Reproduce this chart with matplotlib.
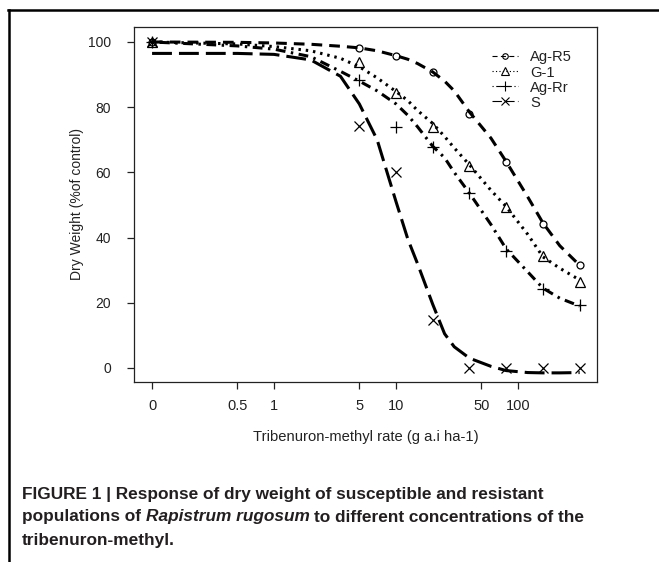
import numpy as np
import matplotlib
matplotlib.use("Agg")
import matplotlib.pyplot as plt
from matplotlib.lines import Line2D

# ---------------- data ----------------
series_names = ["Ag-R5", "G-1", "Ag-Rr", "S"]

obs_doses = [0, 5, 10, 20, 40, 80, 160, 320]
obs_agr5 = [100, 98.3, 95.7, 90.7, 77.8, 63.3, 44.2, 31.6]
obs_g1 = [100, 94.0, 84.3, 74.0, 62.0, 49.3, 34.2, 26.5]
obs_agrr = [100, 88.3, 73.8, 67.7, 53.8, 35.9, 24.1, 19.3]
obs_s = [100, 74.3, 60.0, 14.7, 0.0, 0.0, 0.0, 0.0]

curve_doses = [0, 0.5, 1, 2, 3.5, 5, 7, 10, 12.5, 15, 20, 25, 30, 40, 60, 80, 120, 160, 220, 320]
curve_agr5 = [100, 99.9, 99.7, 99.3, 98.7, 98.2, 97.3, 95.8, 94.7, 93.4, 90.8, 88, 85, 78.5, 70.5, 63.3, 52.5, 44.5, 37.5, 31.5]
curve_g1 = [100, 99.4, 98.6, 97.3, 95, 92.4, 89, 84.8, 82, 79, 75, 71, 67.5, 62.3, 54.5, 49.5, 41, 34.1, 30.6, 27]
curve_agrr = [100, 98.8, 97.8, 95.5, 91, 88, 85, 81, 77.5, 74, 68, 64.5, 60, 53.6, 44, 36.5, 29.5, 24.5, 21.4, 19]
curve_s = [96.5, 96.5, 96.2, 94.5, 89.5, 81, 70, 51, 39.5, 32, 19.5, 10.5, 6.5, 3, 0.5, -0.8, -1.4, -1.5, -1.5, -1.4]

x_tick_values = [0, 0.5, 1, 5, 10, 50, 100]
x_tick_labels = ["0", "0.5", "1", "5", "10", "50", "100"]
y_tick_values = [0, 20, 40, 60, 80, 100]

ZERO_AT = 0.1  # where dose 0 is drawn on the log axis

# ---------------- styles ----------------
plt.rcParams["font.family"] = ["Liberation Sans", "DejaVu Sans"]

styles = {
    "Ag-R5": dict(dashes=(3.5, 2.3), marker="o", ms=5),
    "G-1": dict(dashes=(0.8, 1.6), marker="^", ms=6.5),
    "Ag-Rr": dict(dashes=(0.8, 1.8, 3.2, 1.8), marker="+", ms=9),
    "S": dict(dashes=(6.5, 2.3), marker="x", ms=6.5),
}

TXT = "#222222"
W, H = 659, 562
fig = plt.figure(figsize=(W / 100, H / 100), dpi=100)

L, R, T, B = 134, 597, 27, 382
ax = fig.add_axes([L / W, 1 - B / H, (R - L) / W, (B - T) / H])


def pos(d):
    d = np.asarray(d, dtype=float)
    return np.where(d == 0, ZERO_AT, d)


obs = {"Ag-R5": obs_agr5, "G-1": obs_g1, "Ag-Rr": obs_agrr, "S": obs_s}
curves = {"Ag-R5": curve_agr5, "G-1": curve_g1, "Ag-Rr": curve_agrr, "S": curve_s}

handles = []
for name in series_names:
    st = styles[name]
    ax.plot(pos(curve_doses), curves[name], color="black", lw=2.2,
            dashes=st["dashes"], solid_capstyle="butt", dash_capstyle="butt")
    ax.plot(pos(obs_doses), obs[name], linestyle="none", marker=st["marker"],
            ms=st["ms"], mfc="none", mec="black", mew=0.9)
    handles.append(Line2D([], [], color="black", lw=0.8,
                          dashes=tuple(v * 1.3 for v in st["dashes"]),
                          marker=st["marker"], ms=st["ms"] * 0.8, mfc="none",
                          mec="black", mew=0.8))

ax.set_xscale("log")
ax.set_xlim(0.0711, 444)
ax.set_ylim(-4.3, 104.6)
ax.set_xticks(pos(x_tick_values))
ax.set_xticklabels(x_tick_labels)
ax.minorticks_off()
ax.set_yticks(y_tick_values)

for sp in ax.spines.values():
    sp.set_linewidth(0.9)
    sp.set_color(TXT)

ax.tick_params(axis="both", direction="out", length=5, width=0.9, color=TXT,
               labelcolor=TXT)
ax.tick_params(axis="x", pad=7.5, labelsize=10.5)
ax.tick_params(axis="y", pad=11.5, labelsize=10)

ax.set_xlabel("Tribenuron-methyl rate (g a.i ha-1)", fontsize=10.6, color=TXT)
ax.set_ylabel("Dry Weight (%of control)", fontsize=10, color=TXT)
ax.xaxis.set_label_coords(0.5, (B - 437) / (B - T))
ax.xaxis.label.set_va("center")
ax.yaxis.set_label_coords((77.5 - L) / (R - L), 0.5)
ax.yaxis.label.set_va("center")

leg = ax.legend(handles, series_names, loc="upper left",
                bbox_to_anchor=((491.7 - L) / (R - L), 1 - (50.5 - T) / (B - T)),
                frameon=False, fontsize=10.6, handlelength=1.8, handletextpad=0.8,
                labelspacing=0.07, borderpad=0, borderaxespad=0, numpoints=1)
for t in leg.get_texts():
    t.set_color(TXT)

# ---------------- frame lines of the figure box ----------------
fig.add_artist(Line2D([8.7 / W, 8.7 / W], [0, 1 - 9.5 / H], transform=fig.transFigure,
                      color="black", lw=1.8))
fig.add_artist(Line2D([7.5 / W, 1], [1 - 9.5 / H, 1 - 9.5 / H], transform=fig.transFigure,
                      color="black", lw=1.8))

# ---------------- caption ----------------
cap_fs = 12.4
cx = 22 / W
CAP = "#231f20"
fig.text(cx, 1 - 498.5 / H, "FIGURE 1 | Response of dry weight of susceptible and resistant",
         fontsize=cap_fs, fontweight="bold", color=CAP, va="baseline", ha="left")
t2 = fig.text(cx, 1 - 521.5 / H, "populations of", fontsize=cap_fs, fontweight="bold",
              color=CAP, va="baseline", ha="left")
sp = 0.278 * cap_fs
t2b = fig.text(0, 0, "Rapistrum rugosum", fontsize=cap_fs, fontweight="bold", fontstyle="italic",
               color=CAP, va="bottom", ha="left")
fig.canvas.draw()
r = fig.canvas.get_renderer()
bb = t2.get_window_extent(r)
t2b.set_position(((bb.x1 + sp * 100 / 72) / W, bb.y0 / H))
fig.canvas.draw()
bb2 = t2b.get_window_extent(r)
fig.text((bb2.x1 + sp * 100 / 72) / W, bb.y0 / H, "to different concentrations of the",
         fontsize=cap_fs, fontweight="bold", color=CAP, va="bottom", ha="left")
fig.text(cx, 1 - 544.5 / H, "tribenuron-methyl.", fontsize=cap_fs, fontweight="bold",
         color=CAP, va="baseline", ha="left")

fig.savefig("out.png", dpi=100)
